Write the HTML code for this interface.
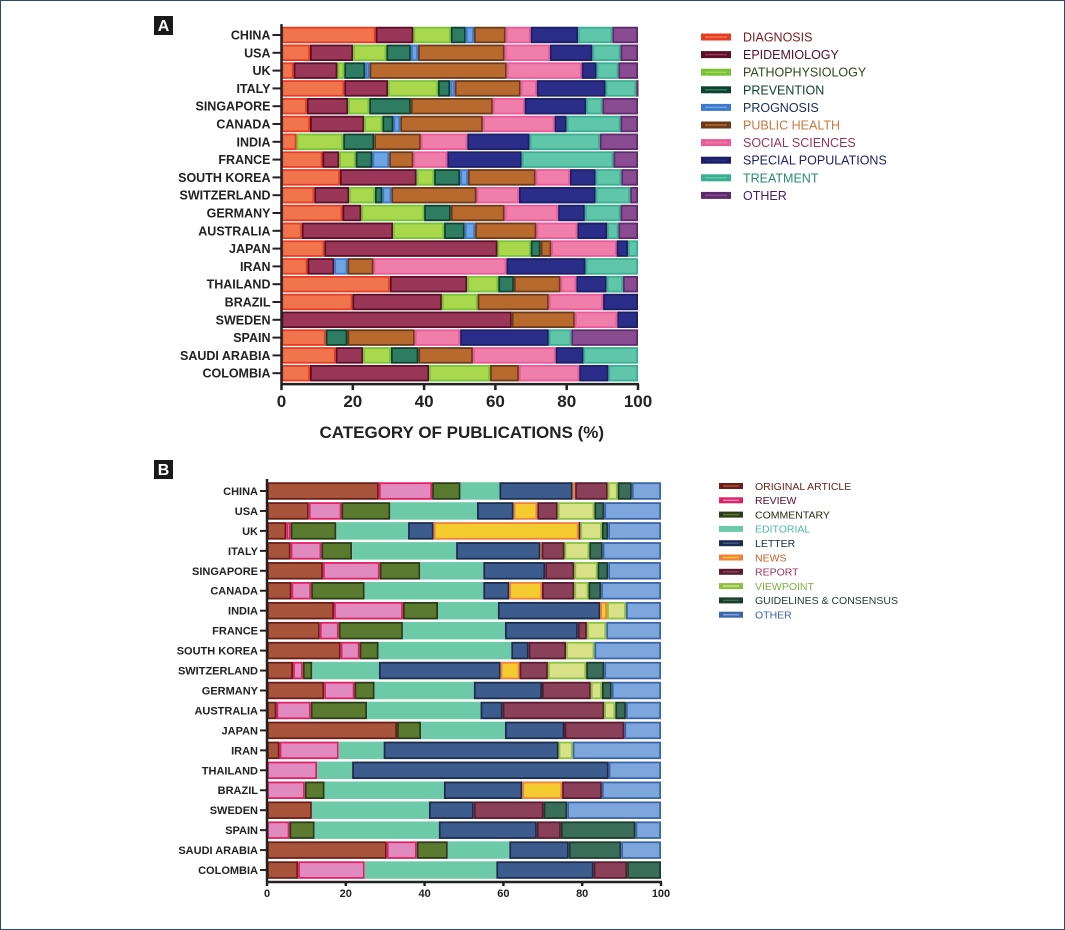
<!DOCTYPE html>
<html><head><meta charset="utf-8"><style>
body{margin:0;background:#fff;}
#wrap{position:relative;width:1063px;height:928px;border:1px solid #2c4a6a;overflow:hidden;background:#fff;}
svg{position:absolute;left:0;top:0;font-family:"Liberation Sans",Arial,sans-serif;}
</style></head><body>
<div id="wrap">
<svg id="svg" width="1065" height="930"></svg>
</div>
<script>
const countries=["CHINA","USA","UK","ITALY","SINGAPORE","CANADA","INDIA","FRANCE","SOUTH KOREA","SWITZERLAND","GERMANY","AUSTRALIA","JAPAN","IRAN","THAILAND","BRAZIL","SWEDEN","SPAIN","SAUDI ARABIA","COLOMBIA"];
const xTicks=[0,20,40,60,80,100];
// Panel A series
const aDiagnosis=[26.4,8,3.4,17.6,7.1,8,4.2,11.5,16.4,9.2,17.1,5.7,12,7.3,30.4,19.9,0,12.4,15.2,8];
const aEpidemiology=[10.6,12.1,12.3,12.3,11.6,15.2,0,4.7,21.5,9.8,5.3,25.6,48.6,7.5,21.7,25.1,64.6,0,7.7,33.4];
const aPathophysiology=[10.5,9.3,1.9,14,5.9,5.1,13.1,4.6,4.9,7.2,17.6,14.3,9.3,0,8.7,10,0,0,7.8,17.1];
const aPrevention=[4.2,6.9,5.9,3.4,11.7,3.1,8.7,4.7,7.3,2.1,7.5,5.8,2.8,0,4.4,0,0,6.1,7.7,0];
const aPrognosis=[2.3,2,1.2,1.3,0,1.9,0,4.7,2.2,2.5,0,2.9,0,3.7,0,0,0,0,0,0];
const aPublicHealth=[8.9,24.3,38.5,18.5,23,23.2,13.1,6.8,19,23.9,15.1,17.2,3,7.3,13.1,20,17.7,18.9,15.3,8.1];
const aSocial=[7,12.7,21,4.5,8.9,20.1,13,9.5,9.6,11.9,15,11.5,18.3,37.3,4.4,15.2,11.9,12.7,23.2,16.9];
const aSpecial=[13.3,11.9,4.2,19.3,17.3,3.4,17.5,20.9,7.2,21.5,7.5,8.4,3.2,22.2,8.5,9.8,5.8,24.9,7.8,8.2];
const aTreatment=[9.6,7.9,6.1,8.6,4.5,15.1,19.7,25.7,7.2,9.7,10,3.1,2.8,14.7,4.6,0,0,6.3,15.3,8.3];
const aOther=[7.2,4.9,5.5,0.5,10,4.9,10.7,6.9,4.7,2.2,4.9,5.5,0,0,4.2,0,0,18.7,0,0];
// Panel B series
const bOriginal=[28.4,10.6,4.9,6,14.2,6.2,17,13.4,18.7,6.6,14.5,2.4,33,3.2,0,0,11.4,0,30.4,7.9];
const bReview=[13.5,8.3,1.1,7.8,14.4,5,17.5,4.8,4.8,2.5,7.7,8.7,0,15,12.7,9.6,0,5.7,7.6,16.9];
const bCommentary=[7.2,12.4,11.6,7.8,10.3,13.6,8.9,16.3,4.8,2.4,5.1,14.3,6.1,0,0,5,0,6.4,7.9,0];
const bEditorial=[9.9,22,18.2,26.4,16,30.1,15.2,25.9,33.7,16.9,25.2,28.8,21.3,11.4,8.9,30.3,29.7,31.5,15.6,33.4];
const bLetter=[18.6,9.3,6.5,21.4,15.7,6.6,26,18.5,4.4,30.9,17.3,5.6,15.1,44.4,65.1,19.9,11.4,24.9,15.1,24.7];
const bNews=[0.6,6,36.8,0.3,0,8.3,1.7,0,0,4.8,0,0,0,0,0,10.1,0,0,0,0];
const bReport=[8.3,5.2,0.4,5.8,7.4,8.2,0,2.3,9.5,7.2,12.4,25.8,15.2,0,0,10.1,17.7,6.1,0,8.5];
const bViewpoint=[2.5,9.3,5.5,6.3,5.9,3.6,4.8,4.9,7.2,9.7,2.8,2.8,0,3.6,0,0,0,0,0,0];
const bGuidelines=[3.6,2.5,1.6,3.4,2.7,3.2,0,0,0,4.6,2.5,2.7,0,0,0,0,6,18.9,13.3,8.6];
const bOther=[7.4,14.4,13.4,14.8,13.4,15.2,8.9,13.9,16.9,14.4,12.5,8.9,9.3,22.4,13.3,15,23.8,6.5,10.1,0];

const seriesA=[
 {n:"DIAGNOSIS",v:aDiagnosis,f:"#f0744c",s:"#e63c26",t:"#7a1a1a"},
 {n:"EPIDEMIOLOGY",v:aEpidemiology,f:"#9a3658",s:"#5a0e28",t:"#5a0e28"},
 {n:"PATHOPHYSIOLOGY",v:aPathophysiology,f:"#a9d84c",s:"#78c23a",t:"#2c4a1a"},
 {n:"PREVENTION",v:aPrevention,f:"#2e7c62",s:"#10402e",t:"#10402e"},
 {n:"PROGNOSIS",v:aPrognosis,f:"#6ea4e2",s:"#3c78cc",t:"#1c2c5c"},
 {n:"PUBLIC HEALTH",v:aPublicHealth,f:"#b8692e",s:"#6a3a1a",t:"#c8783c"},
 {n:"SOCIAL SCIENCES",v:aSocial,f:"#f07eaa",s:"#e85a98",t:"#9a3658"},
 {n:"SPECIAL POPULATIONS",v:aSpecial,f:"#2a2e88",s:"#1c1e66",t:"#1c1e66"},
 {n:"TREATMENT",v:aTreatment,f:"#5fc6aa",s:"#3aae90",t:"#2a8c6e"},
 {n:"OTHER",v:aOther,f:"#8a4c90",s:"#5e2a6e",t:"#4a2060"}];
const seriesB=[
 {n:"ORIGINAL ARTICLE",v:bOriginal,f:"#a8543a",s:"#6a1e1a",t:"#6a1e1a"},
 {n:"REVIEW",v:bReview,f:"#e08ac0",s:"#e02262",t:"#5a0e28"},
 {n:"COMMENTARY",v:bCommentary,f:"#5a7a30",s:"#2c3c18",t:"#1c2c10"},
 {n:"EDITORIAL",v:bEditorial,f:"#6ccaa8",s:"#6ccaa8",t:"#4cbaa0"},
 {n:"LETTER",v:bLetter,f:"#3c5c8e",s:"#1c2c4c",t:"#1c2c4c"},
 {n:"NEWS",v:bNews,f:"#f4cc30",s:"#f08040",t:"#c8602c"},
 {n:"REPORT",v:bReport,f:"#8a4058",s:"#5a1a30",t:"#9a3658"},
 {n:"VIEWPOINT",v:bViewpoint,f:"#d8e088",s:"#8cc040",t:"#7cb040"},
 {n:"GUIDELINES & CONSENSUS",v:bGuidelines,f:"#3a6e5a",s:"#1a3c2c",t:"#1a3c2c"},
 {n:"OTHER",v:bOther,f:"#7ca6dc",s:"#3c64a8",t:"#3c64a8"}];

const NS="http://www.w3.org/2000/svg";
const svg=document.getElementById("svg");
function mk(tag,attrs,parent){const e=document.createElementNS(NS,tag);for(const k in attrs)e.setAttribute(k,attrs[k]);(parent||svg).appendChild(e);return e;}

function panel(cfg){
 const g=mk("g",{});
 
 
 const xs=v=>cfg.x0+(cfg.x1-cfg.x0)*v/100;
 const ys=i=>cfg.y0+cfg.step*i;
 const lb=mk("rect",{x:cfg.lx,y:cfg.ly,width:19,height:19,fill:"#1a1a1a"},g);
 
 
 const lt=mk("text",{x:cfg.lx+9.5,y:cfg.ly+15,"text-anchor":"middle","font-size":16,"font-weight":"bold",fill:"#fff"},g);
 lt.textContent=cfg.label;
 
 
 countries.forEach((c,i)=>{
  let acc=0;const cy=ys(i);
  cfg.series.forEach(s=>{
   const v=s.v[i];
   if(v>0){
    const x=xs(acc),w=xs(acc+v)-x;
    const r=mk("rect",{x:x+0.9,y:cy-cfg.bh/2+0.9,width:Math.max(w-1.8,0.5),height:cfg.bh-1.8,fill:s.f,stroke:s.s,"stroke-width":1.8},g);
    
    
   }
   acc+=v;
  });
  const tk=mk("line",{x1:cfg.x0-cfg.tick,x2:cfg.x0,y1:cy,y2:cy,stroke:"#222","stroke-width":2},g);
  
  
  const t=mk("text",{x:cfg.x0-cfg.tick-2,y:cy+cfg.fs*0.36,"text-anchor":"end","font-size":cfg.fs,"font-weight":"bold",fill:"#222"},g);
  t.textContent=c;
  
  
 });
 const axBottom=ys(countries.length-1)+cfg.step/2+2;
 const ya=mk("line",{x1:cfg.x0,x2:cfg.x0,y1:ys(0)-cfg.step/2-2,y2:axBottom,stroke:"#222","stroke-width":cfg.aw},g);
 
 
 const xa=mk("line",{x1:cfg.x0-1,x2:cfg.x1+1,y1:axBottom,y2:axBottom,stroke:"#222","stroke-width":cfg.aw},g);
 
 
 xTicks.forEach(v=>{
  const l=mk("line",{x1:xs(v),x2:xs(v),y1:axBottom,y2:axBottom+cfg.xt,stroke:"#222","stroke-width":cfg.aw},g);
  
  
  const t=mk("text",{x:xs(v),y:axBottom+cfg.xt+cfg.xfs,"text-anchor":"middle","font-size":cfg.xfs,"font-weight":"bold",fill:"#222"},g);
  t.textContent=v;
  
  
 });
 if(cfg.title){
  const t=mk("text",{x:(cfg.x0+cfg.x1)/2+2,y:cfg.titleY,"text-anchor":"middle","font-size":17,"font-weight":"bold",fill:"#222"},g);
  t.textContent=cfg.title;
  
  
 }
 cfg.series.forEach((s,k)=>{
  const y=cfg.legY+cfg.legStep*k;
  const r=mk("rect",{x:cfg.legX,y:y-cfg.legH/2,width:cfg.legW,height:cfg.legH,fill:s.s},g);
  
  
  const m=mk("line",{x1:cfg.legX+4,x2:cfg.legX+cfg.legW-4,y1:y,y2:y,stroke:s.f,"stroke-width":1.5},g);
  
  
  const t=mk("text",{x:cfg.legX+cfg.legW+12,y:y+cfg.legFs*0.36,"font-size":cfg.legFs,fill:s.t},g);
  t.textContent=s.n;
  
  
 });
}
panel({name:"panel-a",label:"A",lx:153,ly:15,series:seriesA,x0:280.5,x1:637,y0:34,step:17.8,bh:16.5,tick:9,fs:12.5,aw:2.5,xt:6,xfs:17,title:"CATEGORY OF PUBLICATIONS (%)",titleY:437,legX:700,legY:36,legStep:17.6,legW:30,legH:7,legFs:12.5});
panel({name:"panel-b",label:"B",lx:153,ly:459,series:seriesB,x0:266,x1:660,y0:490,step:19.95,bh:17.5,tick:7,fs:11,aw:2.5,xt:4,xfs:11,title:null,legX:718,legY:485,legStep:14.3,legW:24,legH:6,legFs:10.5});
</script>
</body></html>
